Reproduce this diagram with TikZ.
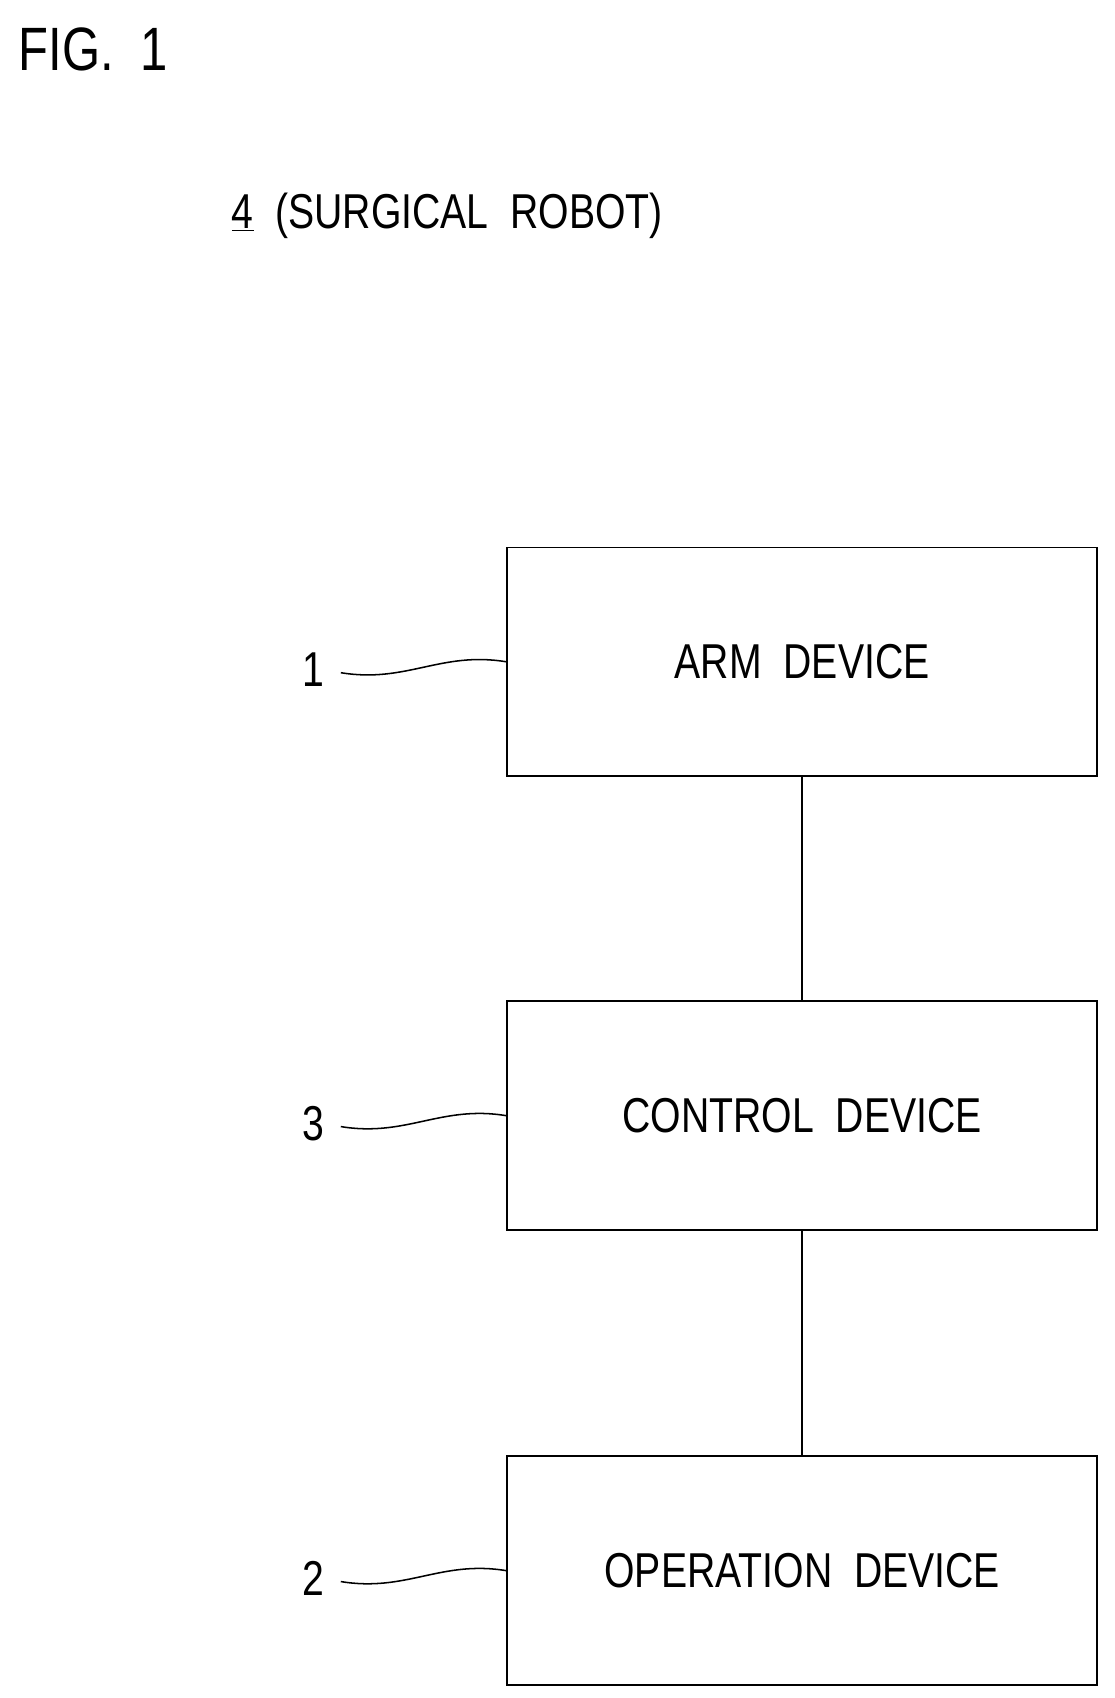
\documentclass[tikz,border=0pt]{standalone}
\usepackage{fontspec}
\setmainfont{Liberation Sans}[FakeStretch=0.8]
\begin{document}
\begin{tikzpicture}[x=0.025cm, y=-0.025cm]
  \tikzset{ block/.style={rectangle,draw,line width=1.2pt,minimum width=542*0.025cm,minimum height=210*0.025cm,align=center,font=\fontsize{32}{36}\selectfont},
          num/.style={font=\fontsize{32}{36}\selectfont, inner sep=2pt},
          lead/.style={line width=1pt},
          link/.style={line width=1pt}}
  \useasboundingbox (0,0) rectangle (1024,1560);
  \node[anchor=west, font=\fontsize{40}{44}\selectfont] (fig) at (12,45) {FIG.~~1};
  \node[anchor=west, font=\fontsize{32}{36}\selectfont] (title) at (208,198) {\underline{4}~~(SURGICAL~~ROBOT)};

  \node[block] (arm) at (737,608) {ARM~~DEVICE};
  \node[block] (ctrl) at (737,1025) {CONTROL~~DEVICE};
  \node[block] (op) at (737,1443) {OPERATION~~DEVICE};

  % Verbindungen
  \draw[link] (arm) -- (ctrl);
  \draw[link] (ctrl) -- (op);

  % Bezugszeichen
  \node[num] (n1) at (288,615) {1};
  \node[num] (n3) at (288,1032) {3};
  \node[num] (n2) at (288,1450) {2};
  \foreach \n/\b in {n1/arm, n3/ctrl, n2/op}
    \draw[lead] (\n.east) ++(12,3) .. controls +(60,10) and +(-60,-10) .. (\b.west);
\end{tikzpicture}
\end{document}
